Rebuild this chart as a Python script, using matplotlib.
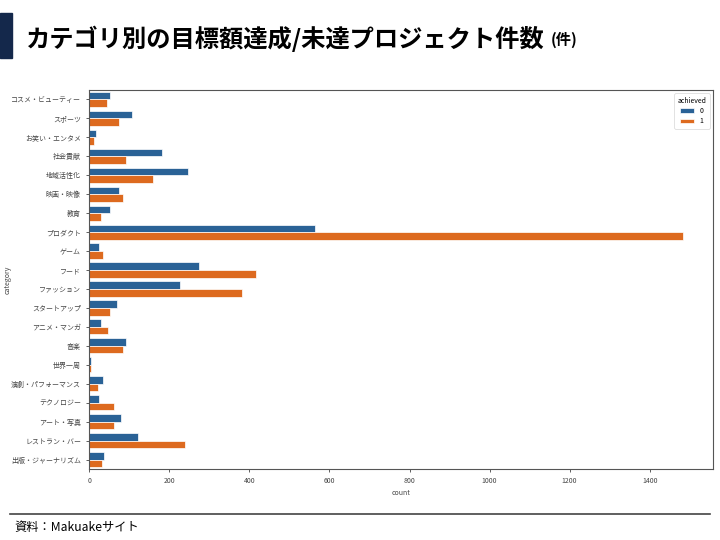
import matplotlib
matplotlib.use("Agg")
import matplotlib.pyplot as plt
import numpy as np
from matplotlib.patches import Rectangle
from matplotlib.lines import Line2D

plt.rcParams['font.family'] = ['Noto Sans CJK JP', 'DejaVu Sans']

categories = ["コスメ・ビューティー", "スポーツ", "お笑い・エンタメ", "社会貢献", "地域活性化",
              "映画・映像", "教育", "プロダクト", "ゲーム", "フード", "ファッション",
              "スタートアップ", "アニメ・マンガ", "音楽", "世界一周", "演劇・パフォーマンス",
              "テクノロジー", "アート・写真", "レストラン・バー", "出版・ジャーナリズム"]
not_achieved = [52, 107, 16, 182, 247, 73, 52, 563, 23, 275, 226, 68, 28, 91, 5, 33, 23, 78, 121, 36]
achieved = [43, 73, 11, 91, 159, 85, 29, 1484, 35, 417, 382, 52, 47, 84, 3, 21, 62, 62, 240, 32]
hue_labels = ["0", "1"]

c_blue = "#2a6296"
c_orange = "#dd6a1f"

fig = plt.figure(figsize=(7.2, 5.4), dpi=100)

# title bar
fig.patches.append(Rectangle((0, 1 - 58/540), 12/720, 45/540, transform=fig.transFigure,
                             color="#14284b", zorder=5))
fig.text(26/720, 1 - 39/540, "カテゴリ別の目標額達成/未達プロジェクト件数", fontsize=17.5,
         fontweight="bold", va="center", ha="left", color="black")
fig.text(551/720, 1 - 40/540, "(件)", fontsize=11, fontweight="bold", va="center",
         ha="left", color="black")

ax = fig.add_axes([89.3/720, 1 - 469/540, (713 - 89.3)/720, 379/540])
y = np.arange(len(categories))
h = 0.4
ax.barh(y - h/2, not_achieved, height=h, color=c_blue, edgecolor="white", linewidth=0.5,
        label=hue_labels[0])
ax.barh(y + h/2, achieved, height=h, color=c_orange, edgecolor="white", linewidth=0.5,
        label=hue_labels[1])
ax.set_yticks(y)
ax.set_yticklabels(categories)
ax.set_ylim(len(categories) - 0.5, -0.5)
ax.margins(x=0.05)
ax.set_xlim(left=0)
ax.set_xticks([0, 200, 400, 600, 800, 1000, 1200, 1400])
ax.tick_params(axis="both", labelsize=5, colors="#444444", length=2.5, width=0.6)
for s in ax.spines.values():
    s.set_color("#555555")
    s.set_linewidth(0.8)
ax.set_xlabel("count", fontsize=5, color="#444444", labelpad=3)
ax.set_ylabel("category", fontsize=5, color="#444444")
ax.yaxis.set_label_coords(-0.124, 0.5)
leg = ax.legend(title="achieved", loc="upper right", fontsize=5, title_fontsize=5,
                frameon=True, handlelength=2.0, borderpad=0.45, labelspacing=0.35,
                handletextpad=0.8)
leg.get_frame().set_linewidth(0.5)

# footer
fig.add_artist(Line2D([10/720, 710/720], [1 - 514/540, 1 - 514/540],
                      transform=fig.transFigure, color="#444444", linewidth=1.2))
fig.text(14/720, 1 - 528/540, "資料：Makuakeサイト", fontsize=8.8, va="center", ha="left",
         color="black")

fig.savefig("out.png", dpi=100)
